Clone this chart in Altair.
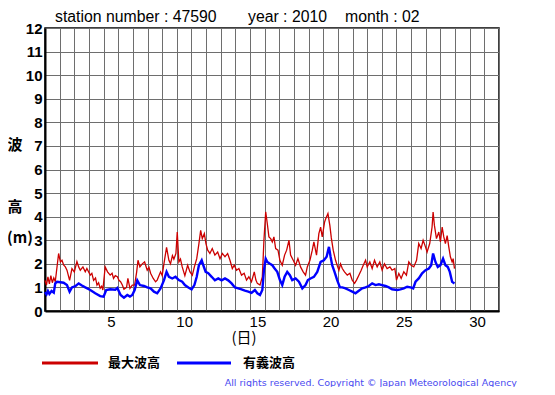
import altair as alt
import pandas as pd

# --- data: February 2010, station 47590 (days elapsed since Feb 1 00:00, metres)
red_day = [0.0, 0.1, 0.2, 0.3, 0.4, 0.5, 0.6, 0.7, 0.77, 0.93,
           1.05, 1.16, 1.27, 1.39, 1.5, 1.68, 1.84, 2.0, 2.18, 2.3,
           2.41, 2.59, 2.75, 2.86, 3.09, 3.2, 3.32, 3.45, 3.55, 3.66,
           3.77, 3.87, 3.95, 4.11, 4.27, 4.45, 4.58, 4.68, 4.8, 4.94,
           5.05, 5.16, 5.28, 5.39, 5.57, 5.66, 5.8, 5.96, 6.12, 6.26,
           6.35, 6.48, 6.64, 6.8, 6.98, 7.1, 7.21, 7.39, 7.55, 7.66,
           7.89, 8.0, 8.12, 8.3, 8.46, 8.57, 8.7, 8.8, 8.94, 9.03,
           9.14, 9.25, 9.37, 9.55, 9.74, 9.9, 10.06, 10.2, 10.36, 10.51,
           10.63, 10.74, 10.88, 10.99, 11.11, 11.26, 11.42, 11.6, 11.79, 11.95,
           12.11, 12.29, 12.47, 12.63, 12.79, 12.92, 13.08, 13.24, 13.42, 13.6,
           13.76, 13.92, 14.1, 14.29, 14.4, 14.5, 14.68, 14.84, 14.95, 15.07,
           15.18, 15.29, 15.41, 15.52, 15.63, 15.75, 15.91, 16.04, 16.2, 16.36,
           16.5, 16.66, 16.77, 16.95, 17.11, 17.27, 17.45, 17.63, 17.79, 17.91,
           18.09, 18.25, 18.36, 18.54, 18.7, 18.82, 18.93, 19.09, 19.16, 19.32,
           19.45, 19.55, 19.68, 19.84, 19.95, 20.07, 20.18, 20.3, 20.45, 20.64,
           20.82, 20.98, 21.14, 21.27, 21.43, 21.59, 21.73, 21.89, 22.0, 22.18,
           22.34, 22.5, 22.68, 22.86, 23.02, 23.18, 23.36, 23.55, 23.7, 23.89,
           24.0, 24.16, 24.32, 24.5, 24.68, 24.84, 25.0, 25.18, 25.37, 25.52,
           25.68, 25.82, 25.98, 26.09, 26.27, 26.43, 26.5, 26.59, 26.73, 26.89,
           27.0, 27.12, 27.23, 27.34, 27.46, 27.57, 27.68, 27.8, 27.87, 27.96]
red_m = [1.3, 1.1, 1.45, 1.15, 1.5, 1.2, 1.4, 1.25, 1.6, 2.44,
         2.08, 2.15, 1.95, 1.87, 1.73, 1.3, 1.8, 1.66, 2.1, 1.87,
         1.73, 1.87, 1.66, 1.8, 1.52, 1.6, 1.3, 1.4, 1.1, 1.2,
         0.96, 1.05, 0.89, 1.87, 1.66, 1.52, 1.6, 1.38, 1.5, 1.45,
         1.3, 1.24, 1.1, 0.92, 1.0, 1.38, 0.96, 1.1, 1.1, 1.66,
         2.15, 1.87, 2.0, 2.08, 1.73, 1.85, 1.6, 1.38, 1.24, 1.31,
         1.66, 1.5, 2.0, 2.7, 2.15, 2.0, 2.35, 2.2, 2.44, 3.35,
         2.08, 2.2, 1.87, 1.5, 1.94, 1.66, 1.52, 1.87, 2.22, 2.86,
         3.42, 3.07, 3.28, 2.86, 2.58, 2.44, 2.65, 2.37, 2.5, 2.22,
         2.44, 2.3, 2.44, 2.15, 1.8, 1.94, 1.73, 1.8, 1.52, 1.6,
         1.31, 1.45, 1.24, 1.66, 1.31, 1.17, 1.1, 1.45, 3.0, 4.2,
         3.7, 3.14, 3.07, 2.93, 3.14, 2.65, 2.58, 2.15, 1.94, 2.37,
         2.58, 3.0, 2.37, 2.15, 1.94, 2.22, 1.87, 1.66, 1.52, 1.87,
         2.15, 2.58, 2.93, 2.37, 3.28, 3.56, 3.14, 3.77, 3.9, 4.13,
         3.63, 3.1, 2.58, 2.15, 1.94, 1.73, 2.0, 1.8, 1.66, 1.52,
         1.6, 1.31, 1.17, 1.31, 1.52, 1.73, 1.94, 2.15, 1.87, 2.08,
         1.8, 2.15, 1.87, 2.08, 1.73, 2.0, 1.8, 1.87, 1.73, 1.8,
         1.31, 1.59, 1.38, 1.66, 1.52, 2.08, 1.94, 1.87, 2.15, 2.86,
         2.65, 3.0, 2.72, 2.5, 2.86, 3.56, 4.2, 3.63, 3.07, 3.35,
         2.93, 3.56, 3.14, 2.86, 3.2, 2.72, 2.3, 2.08, 2.22, 1.8]

blue_day = [0.0, 0.1, 0.2, 0.3, 0.45, 0.6, 0.7, 0.82, 1.05, 1.27,
            1.5, 1.68, 1.84, 2.07, 2.3, 2.52, 2.75, 3.09, 3.43, 3.77,
            4.0, 4.18, 4.45, 4.8, 4.94, 5.16, 5.39, 5.62, 5.8, 5.96,
            6.12, 6.3, 6.48, 6.76, 6.98, 7.21, 7.44, 7.66, 7.89, 8.12,
            8.3, 8.46, 8.69, 8.91, 9.14, 9.37, 9.55, 9.79, 10.01, 10.2,
            10.36, 10.51, 10.7, 10.81, 10.97, 11.15, 11.38, 11.6, 11.83, 12.06,
            12.29, 12.51, 12.74, 12.97, 13.2, 13.42, 13.65, 13.88, 14.1, 14.33,
            14.5, 14.68, 14.84, 14.95, 15.07, 15.18, 15.36, 15.52, 15.68, 15.86,
            16.04, 16.2, 16.36, 16.54, 16.72, 16.88, 17.11, 17.34, 17.57, 17.79,
            17.95, 18.13, 18.36, 18.59, 18.82, 19.04, 19.23, 19.39, 19.5, 19.61,
            19.77, 19.95, 20.14, 20.3, 20.52, 20.75, 20.98, 21.2, 21.43, 21.66,
            21.89, 22.11, 22.34, 22.57, 22.8, 23.02, 23.25, 23.48, 23.7, 24.05,
            24.27, 24.5, 24.73, 24.96, 25.14, 25.3, 25.52, 25.75, 25.98, 26.21,
            26.37, 26.5, 26.66, 26.82, 27.0, 27.18, 27.34, 27.5, 27.64, 27.8,
            27.96]
blue_m = [0.8, 0.7, 0.85, 0.72, 0.85, 0.78, 1.17, 1.24, 1.22, 1.2,
          1.1, 0.82, 1.0, 1.05, 1.17, 1.08, 1.0, 0.89, 0.75, 0.63,
          0.61, 0.89, 0.92, 0.9, 0.98, 0.68, 0.56, 0.68, 0.61, 0.68,
          0.89, 1.3, 1.1, 1.06, 1.0, 0.96, 0.82, 0.75, 0.96, 1.3,
          1.66, 1.45, 1.38, 1.45, 1.31, 1.24, 1.1, 1.0, 0.92, 1.1,
          1.45, 1.94, 2.15, 1.94, 1.66, 1.6, 1.45, 1.3, 1.38, 1.3,
          1.38, 1.3, 1.17, 1.0, 0.96, 0.92, 0.86, 0.82, 0.77, 0.89,
          0.75, 0.68, 0.89, 1.73, 2.22, 2.08, 2.0, 1.94, 1.8, 1.66,
          1.31, 1.1, 1.45, 1.66, 1.52, 1.31, 1.38, 1.24, 0.96, 1.1,
          1.31, 1.38, 1.45, 1.66, 2.08, 2.15, 2.3, 2.72, 2.3, 1.94,
          1.66, 1.31, 1.0, 1.0, 0.96, 0.89, 0.82, 0.75, 0.86, 0.96,
          1.0, 1.06, 1.17, 1.1, 1.13, 1.1, 1.06, 1.0, 0.92, 0.89,
          0.92, 0.96, 1.03, 1.0, 0.96, 1.24, 1.38, 1.6, 1.73, 1.8,
          1.94, 2.44, 2.08, 1.87, 1.94, 2.22, 1.94, 1.87, 1.66, 1.24,
          1.17]

x_grid = list(range(0, 32))
y_ticks = list(range(0, 13))
header = ["station number : 47590", "year : 2010", "month : 02"]
legend_names = ["最大波高", "有義波高"]
colors = ["#cc0000", "#0000ff"]

NUM_FONT = "Liberation Sans"
CJK_FONT = "Noto Sans CJK JP"

red_df = pd.DataFrame({"day": red_day, "m": red_m})
blue_df = pd.DataFrame({"day": blue_day, "m": blue_m})

xscale = alt.Scale(domain=[0, 31], nice=False, zero=False)
yscale = alt.Scale(domain=[0, 12], nice=False)

xaxis = alt.Axis(values=x_grid, grid=True, ticks=False, title=None,
                 labelExpr="datum.value % 5 == 0 && datum.value > 0 ? datum.value : ''",
                 labelOffset=-7.3, labelOverlap=False, labelFont=NUM_FONT,
                 labelFontSize=15, labelColor="black", labelPadding=3,
                 labelFlush=False, domainColor="black", domainWidth=2)
yaxis = alt.Axis(values=y_ticks, grid=True, ticks=False, title=None,
                 labelFont=NUM_FONT, labelFontSize=15, labelFontWeight="bold",
                 labelColor="black", labelPadding=3, labelOverlap=False,
                 labelFlush=False, domainColor="black", domainWidth=2)

enc = dict(
    x=alt.X("day:Q", scale=xscale, axis=xaxis),
    y=alt.Y("m:Q", scale=yscale, axis=yaxis),
)

red_line = alt.Chart(red_df).mark_line(color=colors[0], strokeWidth=1.3).encode(**enc)
blue_line = alt.Chart(blue_df).mark_line(color=colors[1], strokeWidth=2.4).encode(**enc)


def label(text, x, y, size=15, font=NUM_FONT, weight="normal", align="left",
          color="black", baseline="middle"):
    return alt.Chart(pd.DataFrame({"t": [text]})).mark_text(
        font=font, fontSize=size, fontWeight=weight, align=align,
        baseline=baseline, color=color
    ).encode(text="t:N", x=alt.value(x), y=alt.value(y))


def swatch(x1, x2, y, color):
    return alt.Chart(pd.DataFrame({"a": [0]})).mark_rule(
        color=color, strokeWidth=3
    ).encode(x=alt.value(x1), x2=alt.value(x2), y=alt.value(y))


texts = [
    label(header[0], 10, -11, size=15.8),
    label(header[1], 203, -11, size=15.8),
    label(header[2], 300, -11, size=15.8),
    label("波", -30, 117, font=CJK_FONT, weight="bold", align="center"),
    label("高", -30, 179, font=CJK_FONT, weight="bold", align="center"),
    label("(m)", -25, 210, font=CJK_FONT, weight="bold", align="center"),
    label("(日)", 199, 310, font=CJK_FONT, align="center"),
    swatch(-3, 53, 335, colors[0]),
    label(legend_names[0], 63, 335, size=13, font=CJK_FONT, weight="bold"),
    swatch(132, 186, 335, colors[1]),
    label(legend_names[1], 198, 335, size=13, font=CJK_FONT, weight="bold"),
    label("All rights reserved. Copyright © Japan Meteorological Agency",
          472, 355, size=9.5, font="DejaVu Sans", align="right", color="#4a4af0"),
]

chart = alt.layer(red_line, blue_line, *texts).properties(
    width=454, height=283,
    autosize=alt.AutoSizeParams(type="none"),
    padding={"left": 37, "top": 20, "right": 48, "bottom": 76},
    background="white",
).configure_view(
    stroke="black", strokeWidth=1.5
).configure_axis(
    gridColor="#6e6e6e", gridOpacity=1, gridWidth=1
)

chart.save("out.html", embed_options={"renderer": "svg", "actions": False})
